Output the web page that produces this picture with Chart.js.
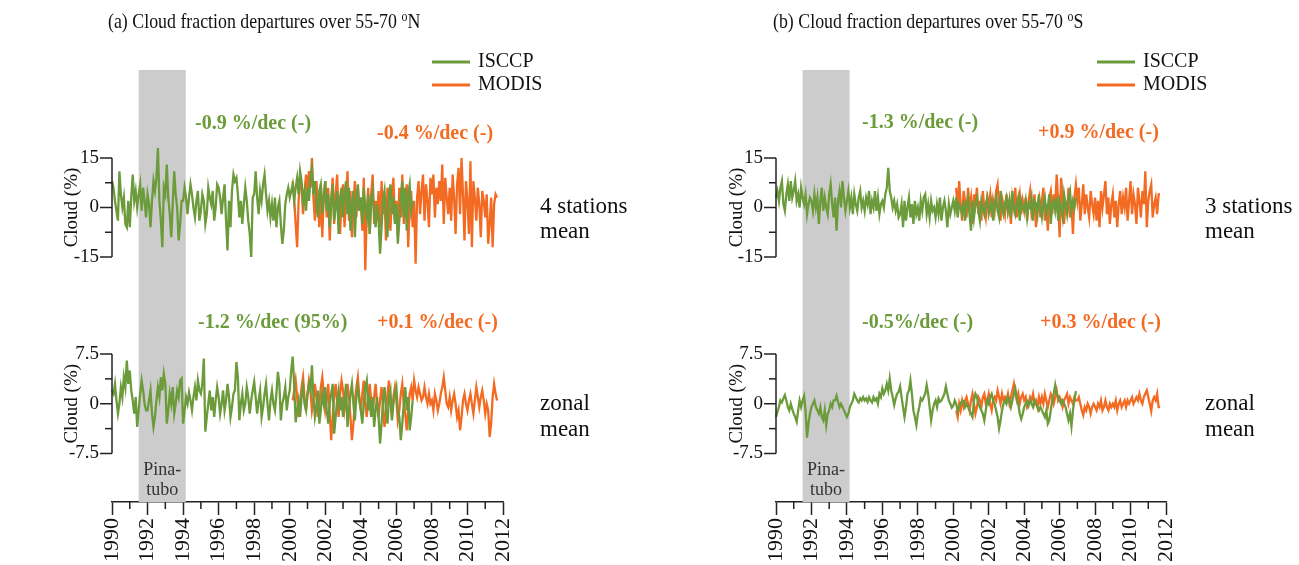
<!DOCTYPE html>
<html>
<head>
<meta charset="utf-8">
<script src="https://cdn.jsdelivr.net/npm/chart.js@4.4.1/dist/chart.umd.min.js"></script>
<style>
  html, body { margin: 0; padding: 0; background: #fff; }
  #wrap { position: relative; width: 1299px; height: 565px; overflow: hidden; }
  .panel { position: absolute; top: 0; height: 565px; }
</style>
</head>
<body>
<div id="wrap">
  <div class="panel" style="left:0;width:650px"><canvas id="panel-a"></canvas></div>
  <div class="panel" style="left:650px;width:649px"><canvas id="panel-b"></canvas></div>
</div>
<script>
// monthly departures, ISCCP from Jan 1990, MODIS from Mar 2000
const isccpStart = 1990;
const modisStart = 2000 + 2 / 12;

const yearLabels = [1990, 1992, 1994, 1996, 1998, 2000, 2002, 2004, 2006, 2008, 2010, 2012];
const stationTicks = [15, 7.5, 0, -7.5, -15];
const stationTickLabels = ['15', '', '0', '', '-15'];
const zonalTicks = [7.5, 3.75, 0, -3.75, -7.5];
const zonalTickLabels = ['7.5', '', '0', '', '-7.5'];
const pinatubo = [1991.5, 1994.15];

const trendNorth = ['-0.9 %/dec (-)', '-0.4 %/dec (-)', '-1.2 %/dec (95%)', '+0.1 %/dec (-)'];
const trendSouth = ['-1.3 %/dec (-)', '+0.9 %/dec (-)', '-0.5%/dec (-)', '+0.3 %/dec (-)'];

// (a) 55-70N, 4 stations mean
const isccpNorthStations = [
  8, 6, 2, -1, -4, 11, 4, 0, 3, -5, -6, 2,
  -6, 3, 10, 2, 5, 0, 4, 7, -1, 6, 2, -3,
  4, 1, -6, 2, 8, 5, 9, 18, 2, -4, -12, 6,
  4, 13, 3, -2, -9, 1, 11, 4, 0, -10, -5, 2,
  2, 6, 3, -2, 3, 7, 4, 0, -3, 2, 5, -4,
  -1, 4, 2, -5, -2, 6, 3, 1, 5, -4, 0, 7,
  6, 3, -2, 3, 7, -4, -13, 2, -6, 5, 10, 8,
  9, 4, -3, 2, -5, 1, 6, 2, -4, -8, -15, 3,
  4, 11, 3, -2, 5, 2, 7, 10, 4, -1, 2, -3,
  1, -4, 3, -6, 0, 2, -5, -11, -7, 1, 4, 6,
  3, 5, 7, 2, 6, 9, 4, 11, 8, 2, 5, -1,
  6, 2, 9, 12, 4, 8, 1, -3, 5, 7, -2, 3,
  8, -1, 4, -6, 2, 7, -4, 0, 5, -8, 3, 6,
  -3, 4, 8, -2, 6, -7, 1, 5, -9, 2, 7, -1,
  3, -5, 6, 0, -3, 4, -8, 2, 5, -2, -6, 1,
  -4, -14, -6, 2, 5, -3, -9, 4, 7, -2, 3, -5,
  1, -11, -4, 3, 8, -3, 6, -7, 4, 7, -1, 2
];
const modisNorthStations = [
  8, 3, -5, -12, 2, 9, 6, -2, 4, 10,
  5, 11, 6, 15, 3, -4, 8, 2, -6, 7, -9, 4,
  8, -3, 6, -10, 2, 9, -5, 4, 10, -2, -8, 3,
  7, -6, 2, 11, -4, 5, -9, 1, 8, -3, 6, -1,
  3, -7, 9, -19, -2, 6, -8, 4, 10, -5, 2, -3,
  5, -6, 8, -2, 3, -10, 6, 1, -7, 4, 9, -4,
  2, -9, 6, -3, 10, -5, 3, 7, -12, 1, 5, -6,
  2, -17, 3, 8, -2, 5, 10, -4, 7, 2, -6, 9,
  4, 10, -3, 6, 1, 8, 2, 13, -5, 9, 3, -2,
  6, -4, 10, 3, -8, 7, 12, -2, 15, 4, -10, 8,
  2, -8, 14, -12, 8, 3, -4, 6, 1, -9, 5, 2,
  -3, 4, -11, -5, 3, -12, 1, 4, 3
];
// (a) zonal mean
const isccpNorthZonal = [
  2, 1.5, 3, 0.5, -1.5, 0, 2.5, 1, 4, 2.5, 6.5, 3,
  5, 2, 0.5, -1.5, 1, -3.5, -1, 1.5, 3.5, 2, 0, -1,
  -1, 0.5, 2, -1.5, -3.5, -2, 0.5, 2.5, 1, 4, 2, 4.5,
  3, -3, -1, 1.5, 0, 2.5, -1.5, 0, 2, 1, 3.5, 3.8,
  -3, -1, 1, 0, 1.7, 0.5, -1, 1, 2.5, 0.5, 3.5, 2,
  1.5, 3, 6.8, -4.2, -2, 0, 2, -1, 1, -2, 0.5, 2.5,
  1, -1.5, 0, 2, -1, 0.5, 3, 1, -2, -0.5, 1.5, 2,
  6.3, 4, -2.5, 0, 1.5, -1, 0, 2.5, 1, -1.5, 0.5, 2,
  3.3, 1, -1.5, 0.5, 2, -2, -0.5, 1.5, 3, 0, -2.5, 0.5,
  2, 0, -1, 1.5, 4.8, 3, -2.5, 0, 1, 2.5, -1, 1,
  2, 5, 7.1, 3, -2.8, -1, 0.5, -2, 1, 2.5, 0, -1,
  1.5, 3, 2, 5.8, 1, -2, -0.5, 2, -3, -1, 1.5, 0,
  2.5, -1, -3, 0, 1.5, 3, -4.5, -2, 0.5, 2, -1, 1,
  -2, 0.5, 3, -3.5, -1, 1.5, 3, 0, -2.5, 1, 2.5, 0.5,
  -1, -3, 0, 2.5, 3.5, -1, 0.5, -2, 1, -3.5, -1, 1,
  -2, -6, -3, 0.5, 2.5, -1, -3, 1, 2, -2.5, 0, 1.5,
  2.5, -1, -2, -5.5, -3, 0, 2.5, -1, 1, -4, -2, 0.5
];
const modisNorthZonal = [
  0.5, 2, 3.5, 1, -2, 0, 2.5, 4, 1, -1,
  1.5, 3.5, 2, -1, 0.5, 3, 1, -2, 0, 2.5, 4, 1.5,
  -1, 0.5, 3, -1.5, -5.5, -2, 1, 3, 0.5, -2, 1.5, 3.5,
  2, -1, 0.5, 3, 1, -2, -5.5, -3, 0.5, 2.5, 4, 1,
  -1, 1.5, 3.5, 0, -2, 1, 3, 0.5, -1.5, 1, 3, 0,
  -2, 0.5, 2.5, -0.5, -3.5, -1, 1.5, 3.5, 0, -2, 1, 2.5,
  0.5, -2.5, -1, 1.5, 3, 0, -1.5, -4, -1, 1.5, 2.5, 0.5,
  3.5, 2, 1, 2.5, 1.5, 0.5, 1, 2.5, 1, 0, 1.5, 0,
  0.5, -1, 1.5, 0.5, -1, 0, 1.5, 2.5, 4, 2, 0, -0.5,
  1, -1, 0.5, 1.5, 0, -2, -1, -4, -2, 0.5, 1.5, 0,
  -1, 0.5, 1.5, 0, -1.5, 0.5, 2.5, 1, -0.5, 1, 2, 0.5,
  -1.5, 0, -1, -5, -3, 1, 3, 1.5, 0.5
];
// (b) 55-70S, 3 stations mean
const isccpSouthStations = [
  3, 5, 2, 6, 8, 1, -1, 4, 7, 2, 8, 3,
  5, 8, 2, 4, 0, 6, 3, 1, 4, -2, 1, 3,
  2, -1, 4, 0, 3, -5, 2, 6, -1, 3, 0, -2,
  4, 7, 1, -3, 3, -7, 2, 5, 0, 8, 3, -1,
  2, 5, 0, 3, -2, 4, 1, -1, 3, 5, 0, 2,
  -1, 3, 1, 5, -2, 2, 0, 5, -1, 3, -2, 1,
  2, 0, 4, 6, 12, 5, 3, 0, 2, -1, 1, -3,
  -2, 1, -6, 2, -4, 0, 3, -3, 1, -5, 2, -2,
  0, -4, 2, -1, 3, 4, -2, 1, -3, 2, -1, 0,
  -3, 1, -2, 3, -4, 0, 2, -1, -6, 1, -2, 0,
  2, -1, 3, -3, 1, 0, -2, 2, -4, 1, 3, -2,
  -7, 2, -3, 1, 3, -1, -4, 2, 0, -2, 1, 3,
  -2, 0, 2, -4, 1, 3, -1, -3, 5, 0, -2, 1,
  3, -1, 2, -3, 5, 0, -2, 1, 3, -4, 2, 0,
  -1, 2, -3, 1, 0, 3, -4, 2, 1, -2, 4, 0,
  -3, 1, 3, -2, 0, 4, -5, 1, 2, -1, 3, -4,
  2, 0, -3, 4, 1, -2, 3, 5, -1, 2, 0, 3
];
const modisSouthStations = [
  6, -2, 8, 1, -4, 5, 2, -3, 6, 0,
  3, -5, 4, 1, 6, -2, 2, -4, 5, 0, -3, 3,
  1, 4, -3, 2, -1, 5, 7, 0, -4, 3, 1, -2,
  4, -1, 2, -5, 3, 0, 6, -3, 1, 4, -2, 2,
  -1, 3, -4, 2, 5, -2, 0, 4, -6, 1, 3, -3,
  2, 6, -4, 1, -7, 3, 5, -2, 4, 0, 10, 2,
  -9, 9, 3, -5, 2, -2, 6, -3, 1, -8, 3, 7,
  2, 6, -4, 1, 7, -2, 4, 0, -3, 5, 1, -2,
  3, -4, 2, -6, 5, 0, 4, 8, -2, 3, -5, 1,
  4, -3, 2, -6, 1, 5, -2, 3, 0, 6, -4, 2,
  8, -2, 4, 1, -5, 6, 2, -3, 5, 1, 11, -6,
  2, 5, 7, -3, 1, 3, -2, 4, 4
];
// (b) zonal mean
const isccpSouthZonal = [
  -2, -1.2, -0.5, 0.5, 0.2, 0.8, 1.3, 0.5, -0.5, -1, 0, -0.8,
  -1.5, -2, -2.7, -1, 0.5, -0.5, 0.5, 1.2, -1, -5.1, -3, -1.5,
  -0.5, 0, 0.5, -0.5, -1, -1.5, -0.5, -2, -2.5, -1, -3.2, -1.5,
  -1, 0, -0.5, 0.5, 0.5, 1.2, 0.3, -0.5, 0, -0.5, -1, -1.5,
  -2, -1.5, -0.5, 0, 0.5, 1.5, 1, 0.5, 0.2, 0.8, 0.5, 1,
  0.5, 0.8, 0.3, 1, 0.5, 0.2, 1, 0.5, 0.8, 0, 1.5, 1,
  2.3, 1.5, 2, 3, 2, 3.8, 2, 1, -0.2, 0.8, 1.5, 1.8,
  2.6, 1, -0.5, -2, -0.5, 1.5, 2, 3.5, 1.5, -1, -2, -3.2,
  -1.5, -0.5, 0.8, 0.5, 1, 1.5, 2.8, 1.5, -0.5, -2.5, -1, 0,
  0.5, -0.5, 0.8, 0.3, 0.5, 1, 1.5, 2.6, 1.5, 0.5, 0, -0.6,
  -0.3, 0.5, 0, -1.1, -0.5, 0, 0.5, 0.4, -0.5, 0, -0.5, -1,
  -1.5, -2, 0.5, 1.5, 1, 0, -0.5, -1, -1.5, -2.5, -1, 0.5,
  0, 1, 1.5, 0.5, 0, -1, -2, -3.7, -2.5, -1, 0, 0.5,
  0, 1, 0.5, -0.5, 0.5, 1.5, 2.3, 1, 0, -1.5, -2.3, -1.5,
  -0.5, 0, 0.4, -0.3, 0.5, 0, -0.5, 0.5, 0, -0.5, -1, -0.5,
  -1, -1.5, -2, -1, -3, -2.5, -1, 0.5, 1.5, 2.8, 1.5, 1,
  0.5, 0, 0.5, 0, -0.5, -1.5, -2.5, -1.5, -3.4, -1, 0.5, 1.9
];
const modisSouthZonal = [
  -1, -2, 0, -1, 0.5, -0.5, 0.5, 1, 0, -1,
  0.5, 1.5, 0, -1.5, -0.5, 1, 0.5, -0.5, 1, 1.5, 0, 0.5,
  1.5, 0, -1, 0.5, 1, 0.5, 2, 1, 0, 1.5, 0.5, 1,
  0.5, 1.5, 0, 1, 2, 3, 1.5, 0.5, 1.5, 0, 1, 1.5,
  0.5, 1, -0.5, 0, 1, 0.5, 1.5, 0, 0.5, -0.5, 1, 0,
  1, 0, 1.5, 0.5, -0.5, 0.5, 1.5, 1, 0, 1, 2, 0.5,
  1, 0.5, -0.5, 0.5, 1, 1.5, 0, 1, 0.5, 0, 1, 0.5,
  0.5, 1, 0, -1, -1.7, -0.5, -1, 0, -0.5, -1.5, -0.5, 0,
  -0.5, -1, 0, -0.5, 0.5, -1, -0.5, 0.5, -0.5, -1, 0, -0.5,
  0, -0.5, 0.5, -1, 0, 0.5, -0.5, 0, 0.5, -0.5, 0.5, 0,
  0.5, 1, 0, 0.5, 1, 0.5, 1.5, 0.5, 0, 1, 1.5, 2,
  1, 0, -1.1, 0.5, 1, 0.5, 1.5, -0.5, -0.5
];

const ISCCP_COLOR = '#6b9b3a';
const MODIS_COLOR = '#f36b22';
const AXIS_COLOR = '#222';
const SERIF = '"Liberation Serif", "Times New Roman", serif';

const plotTop = 70;
const plotBottom = 502;
const stationBand = { top: 15, bottom: -15, pxTop: 158, pxBottom: 257 };
const zonalBand = { top: 7.5, bottom: -7.5, pxTop: 354, pxBottom: 453.5 };

function series(values, start) {
  return values.map((v, i) => ({ x: start + i / 12, y: v }));
}

// hidden y scale whose range puts the band where the reference has it
function bandScale(band) {
  const ppu = (band.pxBottom - band.pxTop) / (band.top - band.bottom);
  return {
    type: 'linear',
    display: false,
    min: band.bottom - (plotBottom - band.pxBottom) / ppu,
    max: band.top + (band.pxTop - plotTop) / ppu
  };
}

function line(label, values, start, axis, color) {
  return {
    label, data: series(values, start), yAxisID: axis,
    borderColor: color, borderWidth: 2.3, pointRadius: 0, tension: 0, clip: false
  };
}

function text(ctx, str, x, y, font, color, align) {
  ctx.font = font;
  ctx.fillStyle = color;
  ctx.textAlign = align || 'left';
  ctx.textBaseline = 'middle';
  ctx.fillText(str, x, y);
}

function drawYAxis(ctx, scale, x, values, labels, title, titleX) {
  const yTop = scale.getPixelForValue(values[0]);
  const yBot = scale.getPixelForValue(values[values.length - 1]);
  ctx.strokeStyle = AXIS_COLOR;
  ctx.lineWidth = 1.5;
  ctx.beginPath();
  ctx.moveTo(x, yTop);
  ctx.lineTo(x, yBot);
  ctx.stroke();
  values.forEach((v, i) => {
    const y = scale.getPixelForValue(v);
    const len = labels[i] ? 12 : 7;
    ctx.beginPath();
    ctx.moveTo(x - len, y);
    ctx.lineTo(x, y);
    ctx.stroke();
    if (labels[i]) text(ctx, labels[i], x - 13, y, '19px ' + SERIF, '#111', 'right');
  });
  ctx.save();
  ctx.translate(titleX, (yTop + yBot) / 2);
  ctx.rotate(-Math.PI / 2);
  text(ctx, title, 0, 0, '19px ' + SERIF, '#111', 'center');
  ctx.restore();
}

function decor(p) {
  return {
    id: 'decor',
    beforeDatasetsDraw(chart) {
      const { ctx, chartArea, scales } = chart;
      const x0 = scales.x.getPixelForValue(pinatubo[0]);
      const x1 = scales.x.getPixelForValue(pinatubo[1]);
      ctx.save();
      ctx.fillStyle = '#cccccc';
      ctx.fillRect(x0, chartArea.top, x1 - x0, chartArea.bottom - chartArea.top);
      text(ctx, 'Pina-', (x0 + x1) / 2, 470, '18px ' + SERIF, '#333', 'center');
      text(ctx, 'tubo', (x0 + x1) / 2, 490, '18px ' + SERIF, '#333', 'center');
      ctx.restore();
    },
    afterDraw(chart) {
      const { ctx, chartArea, scales } = chart;
      ctx.save();
      // y axes of the two stacked plots
      drawYAxis(ctx, scales.ys, chartArea.left, stationTicks, stationTickLabels, 'Cloud (%)', p.yTitleX);
      drawYAxis(ctx, scales.yz, chartArea.left, zonalTicks, zonalTickLabels, 'Cloud (%)', p.yTitleX);
      // minor year ticks
      ctx.strokeStyle = AXIS_COLOR;
      ctx.lineWidth = 1.5;
      for (let yr = 1991; yr < 2012; yr += 2) {
        const x = scales.x.getPixelForValue(yr);
        ctx.beginPath();
        ctx.moveTo(x, chartArea.bottom);
        ctx.lineTo(x, chartArea.bottom + 7);
        ctx.stroke();
      }
      // title (condensed like the original) with superscript o
      ctx.save();
      ctx.translate(p.titleX, 28);
      ctx.scale(0.85, 1);
      ctx.fillStyle = '#111';
      ctx.textAlign = 'left';
      ctx.textBaseline = 'alphabetic';
      ctx.font = '21px ' + SERIF;
      ctx.fillText(p.title, 0, 0);
      let tx = ctx.measureText(p.title).width;
      ctx.font = '14px ' + SERIF;
      ctx.fillText('o', tx, -7);
      tx += ctx.measureText('o').width;
      ctx.font = '21px ' + SERIF;
      ctx.fillText(p.hemi, tx, 0);
      ctx.restore();
      // legend
      [['ISCCP', ISCCP_COLOR, 62], ['MODIS', MODIS_COLOR, 85]].forEach(([name, color, y]) => {
        ctx.strokeStyle = color;
        ctx.lineWidth = 3;
        ctx.beginPath();
        ctx.moveTo(p.legendX, y);
        ctx.lineTo(p.legendX + 38, y);
        ctx.stroke();
        text(ctx, name, p.legendX + 46, y, '20px ' + SERIF, '#111');
      });
      // trend annotations
      const bold = 'bold 20px ' + SERIF;
      text(ctx, p.trends[0], p.trendPos[0][0], p.trendPos[0][1], bold, ISCCP_COLOR);
      text(ctx, p.trends[1], p.trendPos[1][0], p.trendPos[1][1], bold, MODIS_COLOR);
      text(ctx, p.trends[2], p.trendPos[2][0], p.trendPos[2][1], bold, ISCCP_COLOR);
      text(ctx, p.trends[3], p.trendPos[3][0], p.trendPos[3][1], bold, MODIS_COLOR);
      // side labels
      const side = '23px ' + SERIF;
      text(ctx, p.stationLabel, p.sideX, 207, side, '#111');
      text(ctx, 'mean', p.sideX, 232, side, '#111');
      text(ctx, 'zonal', p.sideX, 404, side, '#111');
      text(ctx, 'mean', p.sideX, 430, side, '#111');
      ctx.restore();
    }
  };
}

function makePanel(canvasId, p, d) {
  new Chart(document.getElementById(canvasId), {
    type: 'line',
    data: {
      datasets: [
        line('ISCCP', d.isccpStations, isccpStart, 'ys', ISCCP_COLOR),
        line('MODIS', d.modisStations, modisStart, 'ys', MODIS_COLOR),
        line('ISCCP zonal', d.isccpZonal, isccpStart, 'yz', ISCCP_COLOR),
        line('MODIS zonal', d.modisZonal, modisStart, 'yz', MODIS_COLOR)
      ]
    },
    options: {
      responsive: true,
      maintainAspectRatio: false,
      animation: false,
      layout: { padding: { left: p.padLeft, right: p.padRight, top: plotTop, bottom: 0 } },
      plugins: { legend: { display: false }, tooltip: { enabled: false } },
      scales: {
        x: {
          type: 'linear',
          min: 1990,
          max: 2012,
          afterBuildTicks: s => { s.ticks = yearLabels.map(v => ({ value: v })); },
          afterFit: s => { s.height = 565 - plotBottom; },
          grid: { drawOnChartArea: false, tickLength: 13, tickColor: AXIS_COLOR, tickWidth: 1.5 },
          border: { color: AXIS_COLOR, width: 1.5 },
          ticks: {
            autoSkip: false, minRotation: 90, maxRotation: 90, padding: 3,
            color: '#111', font: { family: SERIF, size: 22 },
            callback: v => String(v)
          }
        },
        ys: bandScale(stationBand),
        yz: bandScale(zonalBand)
      }
    },
    plugins: [decor(p)]
  });
}

makePanel('panel-a', {
  title: '(a) Cloud fraction departures over 55-70 ', hemi: 'N', titleX: 108,
  legendX: 432, padLeft: 112, padRight: 147, yTitleX: 72, sideX: 540,
  stationLabel: '4 stations', trends: trendNorth,
  trendPos: [[195, 124], [377, 134], [198, 323], [377, 323]]
}, {
  isccpStations: isccpNorthStations, modisStations: modisNorthStations,
  isccpZonal: isccpNorthZonal, modisZonal: modisNorthZonal
});

makePanel('panel-b', {
  title: '(b) Cloud fraction departures over 55-70 ', hemi: 'S', titleX: 123,
  legendX: 447, padLeft: 126, padRight: 133, yTitleX: 87, sideX: 555,
  stationLabel: '3 stations', trends: trendSouth,
  trendPos: [[212, 123], [388, 133], [212, 323], [390, 323]]
}, {
  isccpStations: isccpSouthStations, modisStations: modisSouthStations,
  isccpZonal: isccpSouthZonal, modisZonal: modisSouthZonal
});
</script>
</body>
</html>
